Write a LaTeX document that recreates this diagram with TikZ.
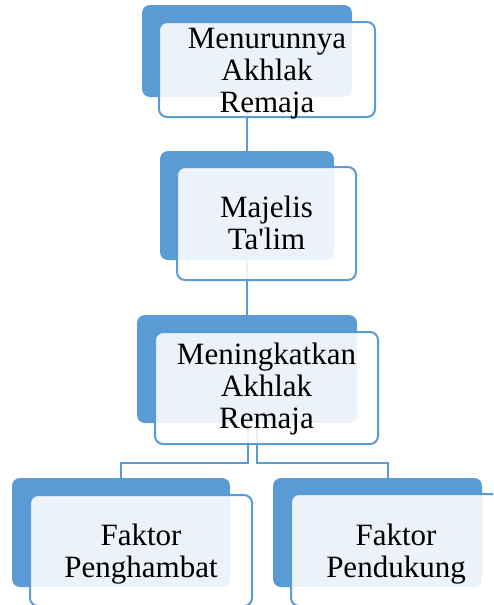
\documentclass[tikz,border=0pt]{standalone}
\usepackage{fontspec}
\setmainfont{Liberation Serif}
\newfontfamily\plainrm{Liberation Serif}
\definecolor{accblue}{HTML}{5B9BD5}
\tikzset{
  backbox/.style={fill=accblue, rounded corners=8pt, inner sep=0pt, outer sep=0pt},
  frontbox/.style={draw=accblue, line width=2pt, fill=white, fill opacity=0.88, text opacity=1, rounded corners=8pt, inner sep=0pt, outer sep=0pt},
  label/.style={font=\plainrm\fontsize{31}{32}\selectfont, align=center, inner sep=0pt, anchor=north},
  conn/.style={draw=accblue, line width=2pt}
}
\begin{document}
\begin{tikzpicture}[x=1pt,y=-1pt]
\path[use as bounding box, clip] (0,0) rectangle (493,605);
% back boxes
\node[backbox, minimum width=210pt, minimum height=92pt] (b1) at (247,51) {};
\node[backbox, minimum width=174pt, minimum height=109pt] (b2) at (247,205.5) {};
\node[backbox, minimum width=220pt, minimum height=108pt] (b3) at (247,369) {};
\node[backbox, minimum width=218pt, minimum height=109pt] (b4) at (121,532.5) {};
\node[backbox, minimum width=209pt, minimum height=109pt] (b5) at (377.5,532.5) {};
% connectors
\coordinate (m1) at (248,463);
\coordinate (m2) at (257,463);
\draw[conn] (b1.south) -- (b2.north);
\draw[conn] (b2.south) -- (b3.north);
\draw[conn] (b3.south -| m1) -- (m1) -| (b4.north);
\draw[conn] (b3.south -| m2) -- (m2) -| (b5.north -| 388,0);
% front boxes
\node[frontbox, minimum width=216pt, minimum height=95pt] (f1) at (267,69.5) {};
\node[frontbox, minimum width=179pt, minimum height=113pt] (f2) at (266.5,223.5) {};
\node[frontbox, minimum width=223pt, minimum height=112pt] (f3) at (266.5,388) {};
\node[frontbox, minimum width=222pt, minimum height=111pt] (f4) at (141,550.5) {};
\node[frontbox, minimum width=210pt, minimum height=112pt] (f5) at (396,550) {};
% labels
\node[label] (t1) at (267,25.6) {\strut Menurunnya\\\strut Akhlak\\\strut Remaja};
\node[label] (t2) at (266.5,194.6) {\strut Majelis\\\strut Ta'lim};
\node[label] (t3) at (266.5,341.6) {\strut Meningkatkan\\\strut Akhlak\\\strut Remaja};
\node[label] (t4) at (141,522.6) {\strut Faktor\\\strut Penghambat};
\node[label] (t5) at (396,522.6) {\strut Faktor\\\strut Pendukung};
\end{tikzpicture}
\end{document}
